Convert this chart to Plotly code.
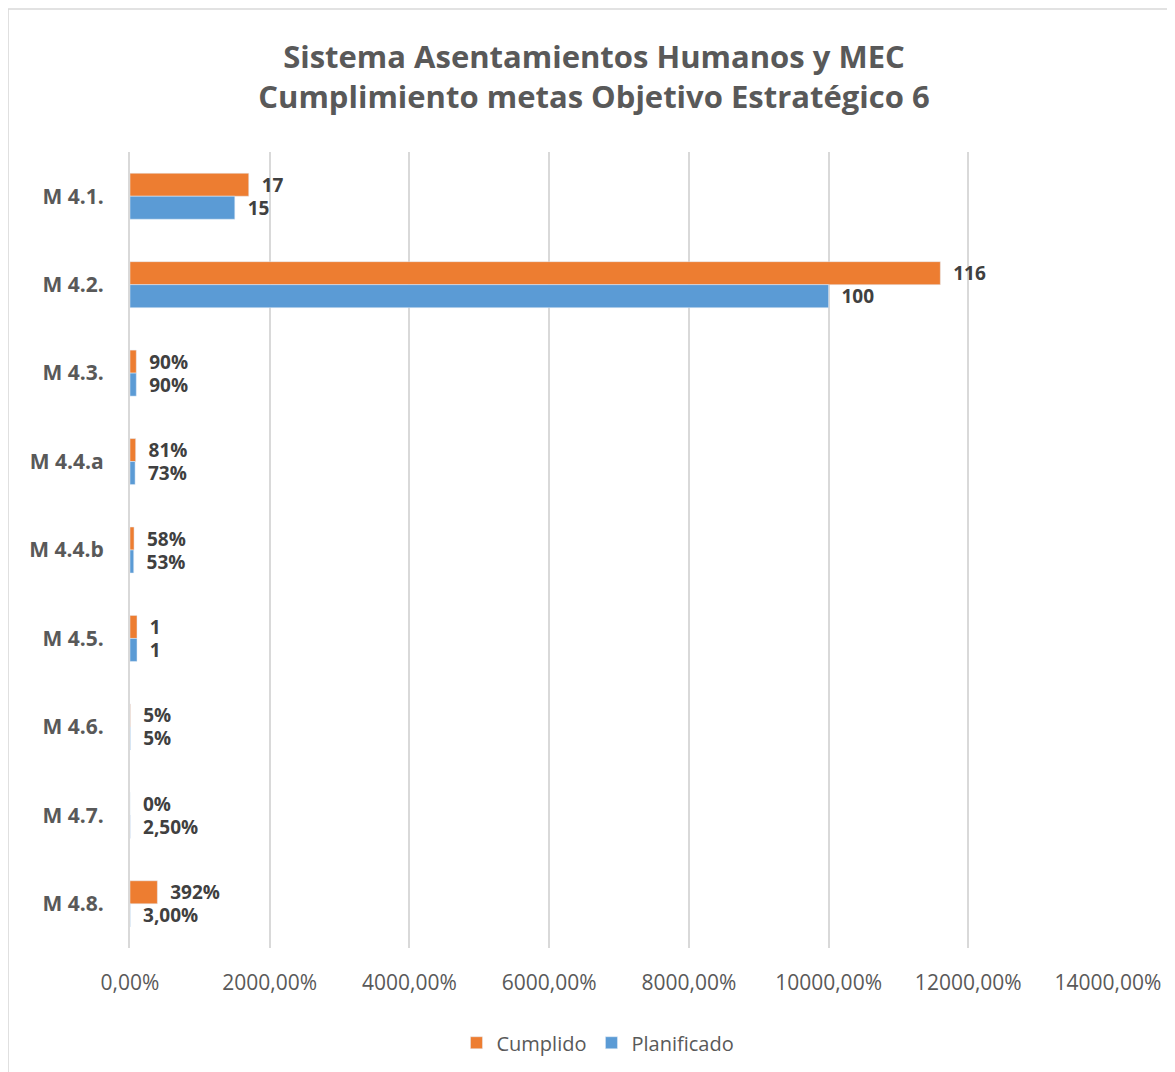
import plotly.graph_objects as go

# metas del objetivo estrategico (1 = 100%)
metas = ["M 4.1.", "M 4.2.", "M 4.3.", "M 4.4.a", "M 4.4.b", "M 4.5.", "M 4.6.", "M 4.7.", "M 4.8."]
cumplido = [17, 116, 0.90, 0.81, 0.58, 1, 0.05, 0, 3.92]
planificado = [15, 100, 0.90, 0.73, 0.53, 1, 0.05, 0.025, 0.03]
cumplido_txt = ["17", "116", "90%", "81%", "58%", "1", "5%", "0%", "392%"]
planificado_txt = ["15", "100", "90%", "73%", "53%", "1", "5%", "2,50%", "3,00%"]

FONT = "Open Sans"
GRAY = "#595959"

fig = go.Figure()
fig.add_trace(go.Bar(
    y=metas, x=cumplido, name="Cumplido", orientation="h",
    marker_color="#ED7D31", text=cumplido_txt,
    texttemplate="\u00a0\u00a0%{text}", textposition="outside",
    constraintext="none",
    textfont=dict(family=FONT, size=19, color="#404040", weight="bold"),
    cliponaxis=False,
))
fig.add_trace(go.Bar(
    y=metas, x=planificado, name="Planificado", orientation="h",
    marker_color="#5B9BD5", text=planificado_txt,
    texttemplate="\u00a0\u00a0%{text}", textposition="outside",
    constraintext="none",
    textfont=dict(family=FONT, size=19, color="#404040", weight="bold"),
    cliponaxis=False,
))

fig.update_layout(
    width=1175, height=1072,
    paper_bgcolor="white", plot_bgcolor="white",
    separators=",.",
    barmode="group", bargap=0.48, bargroupgap=0,
    margin=dict(l=122, r=75, t=144, b=132),
    title=dict(
        text="Sistema Asentamientos Humanos y MEC<br>Cumplimiento metas Objetivo Estratégico 6",
        x=0.4987, xanchor="center", y=0.944, yanchor="middle",
        font=dict(family=FONT, size=31, color=GRAY, weight="bold"),
    ),
    legend=dict(
        orientation="h", x=0.4785, xanchor="center", y=-0.119, yanchor="middle",
        font=dict(family=FONT, size=20, color=GRAY), itemwidth=30,
    ),
    font=dict(family=FONT, color=GRAY),
)
fig.update_xaxes(
    range=[0, 140], dtick=20, tickformat=".2%",
    showgrid=True, gridcolor="#D9D9D9", gridwidth=2,
    zeroline=False, showline=False,
    tickfont=dict(family=FONT, size=21, color=GRAY),
    ticks="", ticklabelstandoff=20,
)
fig.update_yaxes(
    autorange="reversed", showgrid=False, zeroline=False,
    showline=True, linecolor="#D9D9D9", linewidth=2,
    ticks="", ticklabelstandoff=20,
    tickfont=dict(family=FONT, size=21, color=GRAY, weight="bold"),
)
# marco del grafico
fig.add_shape(type="rect", xref="paper", yref="paper",
              x0=-0.1247, x1=1.2, y0=-0.2, y1=1.1796,
              line=dict(color="#D9D9D9", width=1.5), layer="below")

fig.write_html("out.html")
